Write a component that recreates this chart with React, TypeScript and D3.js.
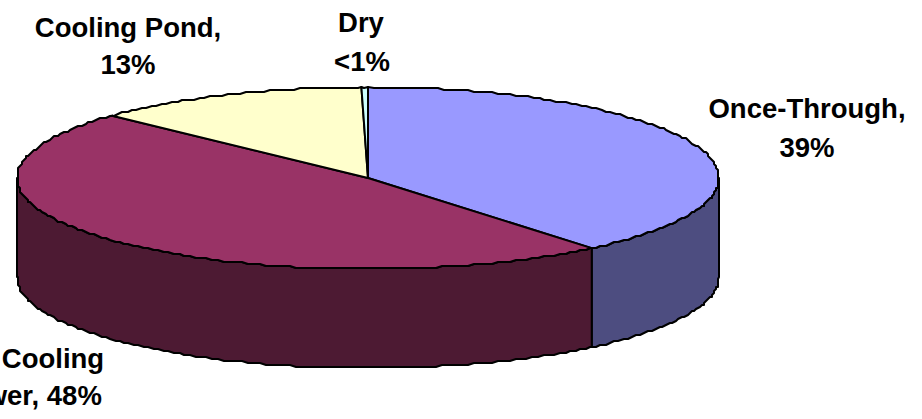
import React from "react";
import * as d3 from "d3";

// Share of generation by cooling system type
const categories = ["Once-Through", "Cooling Tower", "Cooling Pond", "Dry"];
const shares = [39, 48, 12.7, 0.3];
const topColors = ["#9999FF", "#993366", "#FFFFCC", "#CCFFFF"];
const sideColors = ["#4D4D80", "#4D1A33", "#808066", "#668080"];
const labelLines = [["Once-Through,", "39%"], ["Cooling", "Tower, 48%"], ["Cooling Pond,", "13%"], ["Dry", "<1%"]];
const labelCentres = [[807, 807], [53, 28], [128, 128], [361, 362]];
const labelBaselines = [[118, 157], [368, 405], [37, 74], [32, 71]];

const width = 922;
const height = 419;
const cx = 368;
const cy = 178;
const rx = 351;
const ry = 91;
const depth = 99;
const grid = 2;
const angleStep = 1 / 55;

// Rim vertices share one angular sampling and sit on a coarse pixel grid,
// so the top face and the wall trace the same slightly stepped outline
const snap = (v: number) => Math.round(v / grid) * grid;

// Tilted disc: pie angles (0 at twelve o'clock, clockwise) projected on to an ellipse
const px = (a: number) => cx + rx * Math.sin(a);
const py = (a: number) => cy - ry * Math.cos(a);

const arcPoints = (a0: number, a1: number, dy = 0): [number, number][] => {
  const lo = Math.min(a0, a1);
  const hi = Math.max(a0, a1);
  const inner = d3
    .range(Math.ceil(lo / angleStep + 0.01), hi / angleStep, 1)
    .map((k) => [snap(px(k * angleStep)), snap(py(k * angleStep)) + dy] as [number, number]);
  const pts: [number, number][] = [[px(lo), py(lo) + dy], ...inner, [px(hi), py(hi) + dy]];
  return a0 <= a1 ? pts : pts.reverse();
};

const line = d3.line();

export default function App() {
  const pie = d3.pie<number>().sort(null).value((d) => d);
  const slices = pie(shares);
  const frontStart = Math.PI / 2;
  const frontEnd = (3 * Math.PI) / 2;

  return (
    <svg
      width={width}
      height={height}
      viewBox={`0 0 ${width} ${height}`}
      style={{ position: "absolute", left: 0, top: 0, background: "#fff" }}
    >
      <g stroke="#000" strokeWidth={2} strokeLinejoin="round">
        {slices.map((s, i) => {
          const a0 = Math.max(s.startAngle, frontStart);
          const a1 = Math.min(s.endAngle, frontEnd);
          if (a1 <= a0) return null;
          const pts = [...arcPoints(a0, a1), ...arcPoints(a1, a0, depth)];
          return <path key={categories[i]} d={line(pts) + "Z"} fill={sideColors[i]} />;
        })}
        {slices.map((s, i) => {
          const pts: [number, number][] = [[cx, cy], ...arcPoints(s.startAngle, s.endAngle)];
          return <path key={categories[i]} d={line(pts) + "Z"} fill={topColors[i]} />;
        })}
      </g>
      <g
        fontFamily="'Liberation Sans', Arial, sans-serif"
        fontWeight="bold"
        fontSize={27.5}
        textAnchor="middle"
        fill="#000"
      >
        {labelLines.map((lines, i) => (
          <text key={categories[i]}>
            {lines.map((t, j) => (
              <tspan key={t} x={labelCentres[i][j]} y={labelBaselines[i][j]}>
                {t}
              </tspan>
            ))}
          </text>
        ))}
      </g>
    </svg>
  );
}
